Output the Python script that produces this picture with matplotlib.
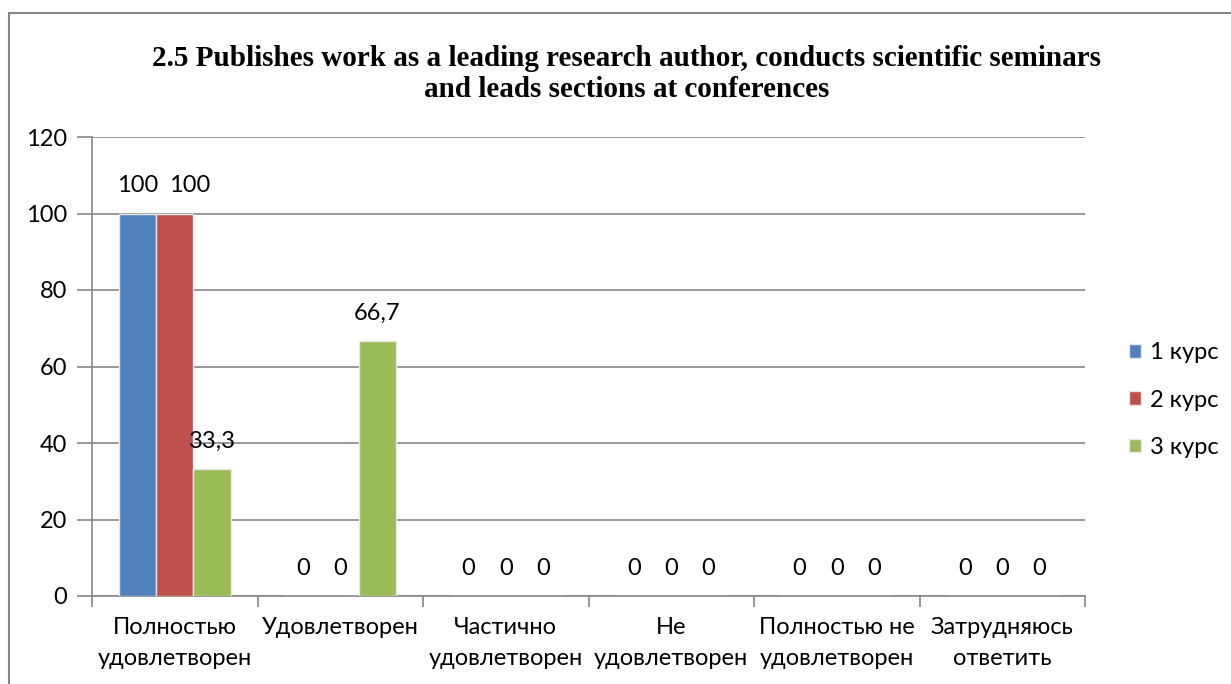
import matplotlib
matplotlib.use("Agg")
import matplotlib.pyplot as plt
import numpy as np
from matplotlib.patches import Rectangle

# data
categories = ["Полностью\nудовлетворен", "Удовлетворен", "Частично\nудовлетворен",
              "Не\nудовлетворен", "Полностью не\nудовлетворен", "Затрудняюсь\nответить"]
series_names = ["1 курс", "2 курс", "3 курс"]
kurs1 = [100, 0, 0, 0, 0, 0]
kurs2 = [100, 0, 0, 0, 0, 0]
kurs3 = [33.3, 66.7, 0, 0, 0, 0]
colors = ["#4f81bd", "#c0504d", "#9bbb59"]
title = "2.5 Publishes work as a leading research author, conducts scientific seminars\nand leads sections at conferences"

plt.rcParams['font.family'] = ['Lato', 'DejaVu Sans']
fs = 17

W, H = 1231, 684
fig = plt.figure(figsize=(W / 100, H / 100), dpi=100)
ax = fig.add_axes([92 / W, 1 - 596 / H, (1085 - 92) / W, (596 - 137) / H])

# outer frame of the chart object
fig.patches.append(Rectangle((9 / W, -0.05), 1.1, 1 - 13 / H + 0.05, transform=fig.transFigure,
                             fill=False, edgecolor="#868686", linewidth=1.5))

x = np.arange(len(categories))
w = 0.225
for i, (vals, name) in enumerate(zip([kurs1, kurs2, kurs3], series_names)):
    pos = x + (i - 1) * w
    ax.bar(pos, vals, width=w, color=colors[i], edgecolor="#e8e8e8", linewidth=1.0,
           label=name, zorder=3)
    prev = [kurs1, kurs2, kurs3][i - 1] if i > 0 else None
    for j, (p, v) in enumerate(zip(pos, vals)):
        txt = ("%g" % v).replace(".", ",")
        dx = 0
        # excel nudges a label sideways when it would touch its neighbour
        if prev is not None and v >= 100 and prev[j] == v:
            dx = 11
        ax.annotate(txt, (p, v), xytext=(dx, 20), textcoords="offset points",
                    ha="center", va="center", fontsize=fs, zorder=4)

ax.set_xlim(-0.5, len(categories) - 0.5)
ax.set_ylim(0, 120)
ax.set_yticks(range(0, 121, 20))
ax.yaxis.grid(True, color="#868686", linewidth=1.2, zorder=0)
ax.tick_params(axis="y", length=11, width=1.2, color="#868686", labelsize=fs, pad=7)

ax.set_xticks(x)
ax.set_xticklabels(categories, fontsize=fs, linespacing=1.62)
ax.tick_params(axis="x", length=0, pad=15)
ax.set_xticks(np.arange(-0.5, len(categories)), minor=True)
ax.tick_params(axis="x", which="minor", length=8, width=1.2, color="#868686")

for s in ["top", "right"]:
    ax.spines[s].set_visible(False)
for s in ["left", "bottom"]:
    ax.spines[s].set_color("#868686")
    ax.spines[s].set_linewidth(1.2)

fig.text(627 / W, 1 - 74 / H, title, ha="center", va="center", fontsize=21,
         fontweight="bold", family="Liberation Serif", linespacing=1.2)

leg = ax.legend(loc="center left", bbox_to_anchor=(0.023, 0.427), frameon=False,
                fontsize=fs, handlelength=0.5, handleheight=0.5, labelspacing=1.11,
                handletextpad=0.4, bbox_transform=ax.transAxes)
leg.set_bbox_to_anchor((1.023, 0.427), transform=ax.transAxes)

fig.savefig("out.png", dpi=100)
